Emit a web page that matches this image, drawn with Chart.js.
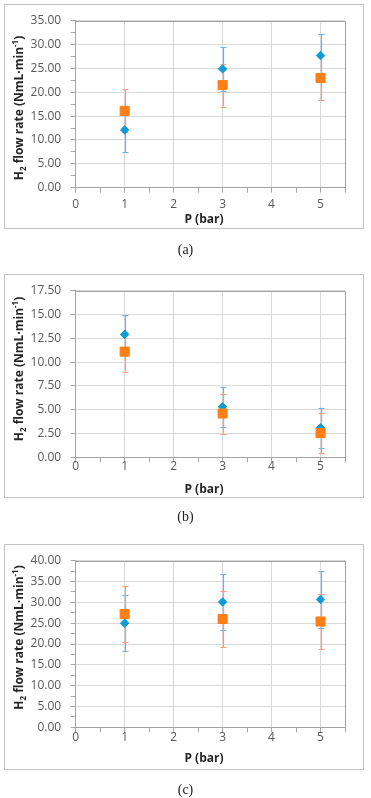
<!DOCTYPE html>
<html>
<head>
<meta charset="utf-8">
<script src="https://cdn.jsdelivr.net/npm/chart.js@4/dist/chart.umd.min.js"></script>
<style>
  html, body { margin: 0; padding: 0; background: #fff; }
  body { width: 371px; height: 798px; position: relative; overflow: hidden; }
  .panel { position: absolute; }
  .frame { position: absolute; left: 0; top: 0; right: 0; bottom: 0; border: 1.5px solid #c3c3c3; box-sizing: border-box; pointer-events: none; }
  .panel canvas { position: absolute; left: 0; top: 0; }
  .cap { position: absolute; left: 0; width: 371px; text-align: center; font-family: "Liberation Serif", "DejaVu Serif", serif; font-size: 14px; color: #222; line-height: 16px; }
</style>
</head>
<body>
<script>
// ---------------- DATA ----------------
const pressure = [1, 3, 5];
const xTickLabels = ['0', '1', '2', '3', '4', '5'];

const aSeries1 = [12.1, 24.9, 27.7];
const aSeries1Err = [4.6, 4.6, 4.5];
const aSeries2 = [16.1, 21.5, 23.0];
const aSeries2Err = [4.5, 4.5, 4.6];
const aYTickLabels = ['0.00', '5.00', '10.00', '15.00', '20.00', '25.00', '30.00', '35.00'];

const bSeries1 = [12.9, 5.3, 3.1];
const bSeries1Err = [2.1, 2.1, 2.1];
const bSeries2 = [11.1, 4.6, 2.55];
const bSeries2Err = [2.1, 2.1, 2.1];
const bYTickLabels = ['0.00', '2.50', '5.00', '7.50', '10.00', '12.50', '15.00', '17.50'];

const cSeries1 = [25.0, 30.1, 30.7];
const cSeries1Err = [6.7, 6.7, 6.8];
const cSeries2 = [27.2, 26.0, 25.4];
const cSeries2Err = [6.7, 6.7, 6.7];
const cYTickLabels = ['0.00', '5.00', '10.00', '15.00', '20.00', '25.00', '30.00', '35.00', '40.00'];

const xTitle = 'P (bar)';
const yTitleParts = [['H', 'n'], ['2', 'sub'], [' flow rate (NmL\u00B7min', 'n'], ['-1', 'sup'], [')', 'n']];
const captions = ['(a)', '(b)', '(c)'];

// ---------------- LAYOUT / STYLE ----------------
const BLUE = '#0f9bd7', ORANGE = '#ff7f16';
const BLUE_ERR = '#6fb3e6', ORANGE_ERR = '#f89c78';
const TICK_FONT = { family: '"Open Sans", "Liberation Sans", sans-serif', size: 12, lineHeight: 1.2 };

const panels = [
  { s1: aSeries1, e1: aSeries1Err, s2: aSeries2, e2: aSeries2Err, yLabels: aYTickLabels, yMax: 35, yStep: 2.5,
    top: 4, h: 225, plotTop: 15, plotBottom: 183.7, xLabelPad: 4.4, yTitleY: 104, xTitleY: 216, capY: 250 },
  { s1: bSeries1, e1: bSeries1Err, s2: bSeries2, e2: bSeries2Err, yLabels: bYTickLabels, yMax: 17.5, yStep: 2.5,
    top: 274, h: 224, plotTop: 14.3, plotBottom: 183.3, xLabelPad: -2.8, yTitleY: 95, xTitleY: 215.3, capY: 517 },
  { s1: cSeries1, e1: cSeries1Err, s2: cSeries2, e2: cSeries2Err, yLabels: cYTickLabels, yMax: 40, yStep: 2.5,
    top: 544, h: 226, plotTop: 14.3, plotBottom: 183.3, xLabelPad: -2.2, yTitleY: 93.5, xTitleY: 214.3, capY: 790 }
];
const BOX_LEFT = 4, BOX_W = 360, PLOT_LEFT = 71.7, PLOT_RIGHT = 341;

// ---------------- PLUGINS ----------------
const errorBars = {
  id: 'errorBars',
  beforeDatasetsDraw(chart) {
    const ctx = chart.ctx, xs = chart.scales.x, ys = chart.scales.y;
    ctx.save();
    ctx.lineWidth = 1.2;
    chart.data.datasets.forEach(ds => {
      ctx.strokeStyle = ds.errColor;
      ds.data.forEach((p, i) => {
        const e = ds.errors[i];
        const px = Math.round(xs.getPixelForValue(p.x)) + 0.5;
        const y1 = ys.getPixelForValue(p.y - e);
        const y2 = ys.getPixelForValue(p.y + e);
        ctx.beginPath();
        ctx.moveTo(px, y1); ctx.lineTo(px, y2);
        ctx.moveTo(px - 3, Math.round(y1) + 0.5); ctx.lineTo(px + 3, Math.round(y1) + 0.5);
        ctx.moveTo(px - 3, Math.round(y2) + 0.5); ctx.lineTo(px + 3, Math.round(y2) + 0.5);
        ctx.stroke();
      });
    });
    ctx.restore();
  }
};

const plotFrame = {
  id: 'plotFrame',
  beforeDatasetsDraw(chart) {
    const { ctx, chartArea: a } = chart;
    ctx.save();
    ctx.strokeStyle = '#a3a3a3';
    ctx.lineWidth = 1;
    ctx.beginPath();
    const t = Math.round(a.top) + 0.5, r = Math.round(a.right) + 0.5;
    ctx.moveTo(a.left, t); ctx.lineTo(r, t); ctx.lineTo(r, a.bottom);
    ctx.stroke();
    ctx.restore();
  }
};

const axisTitles = {
  id: 'axisTitles',
  afterDraw(chart, args, opts) {
    const ctx = chart.ctx;
    ctx.save();
    ctx.fillStyle = '#262626';
    ctx.font = 'bold 12px "Open Sans", sans-serif';
    ctx.textAlign = 'center';
    ctx.textBaseline = 'middle';
    ctx.fillText(xTitle, opts.xTitleX, opts.xTitleY);
    // y title (rotated)
    ctx.translate(opts.yTitleX, opts.yTitleY);
    ctx.rotate(-Math.PI / 2);
    ctx.textAlign = 'left';
    ctx.textBaseline = 'alphabetic';
    const big = 'bold 12px "Open Sans", sans-serif', small = 'bold 8px "Open Sans", sans-serif';
    let total = 0;
    yTitleParts.forEach(([t, k]) => { ctx.font = k === 'n' ? big : small; total += ctx.measureText(t).width; });
    let x = -total / 2;
    yTitleParts.forEach(([t, k]) => {
      ctx.font = k === 'n' ? big : small;
      const dy = k === 'sub' ? 7 : (k === 'sup' ? -1 : 4);
      ctx.fillText(t, x, dy);
      x += ctx.measureText(t).width;
    });
    ctx.restore();
  }
};

// ---------------- BUILD ----------------
panels.forEach((P, idx) => {
  const div = document.createElement('div');
  div.className = 'panel';
  div.style.left = BOX_LEFT + 'px';
  div.style.top = P.top + 'px';
  div.style.width = BOX_W + 'px';
  div.style.height = P.h + 'px';
  const cv = document.createElement('canvas');
  cv.width = BOX_W; cv.height = P.h;
  cv.style.width = BOX_W + 'px'; cv.style.height = P.h + 'px';
  div.appendChild(cv);
  const fr = document.createElement('div');
  fr.className = 'frame';
  div.appendChild(fr);
  document.body.appendChild(div);

  const cap = document.createElement('div');
  cap.className = 'cap';
  cap.style.top = (P.capY - 8) + 'px';
  cap.textContent = captions[idx];
  document.body.appendChild(cap);

  const xAxisH = P.h - P.plotBottom;

  new Chart(cv, {
    type: 'scatter',
    data: {
      datasets: [
        { label: 'series 1', data: pressure.map((x, i) => ({ x, y: P.s1[i] })), errors: P.e1, errColor: BLUE_ERR,
          pointStyle: 'rectRot', pointRadius: 4.2, backgroundColor: BLUE, borderColor: BLUE, pointBorderWidth: 1, order: 2 },
        { label: 'series 2', data: pressure.map((x, i) => ({ x, y: P.s2[i] })), errors: P.e2, errColor: ORANGE_ERR,
          pointStyle: 'rect', pointRadius: 6.4, backgroundColor: ORANGE, borderColor: ORANGE, pointBorderWidth: 1, order: 1 }
      ]
    },
    options: {
      responsive: false,
      animation: false,
      devicePixelRatio: 1,
      layout: { padding: { left: 0, right: BOX_W - PLOT_RIGHT, top: P.plotTop, bottom: 0 } },
      plugins: {
        legend: { display: false },
        tooltip: { enabled: false },
        axisTitles: { xTitleX: 200, xTitleY: P.xTitleY, yTitleX: 15, yTitleY: P.yTitleY }
      },
      scales: {
        x: {
          type: 'linear', min: 0, max: 5.5,
          afterFit: (s) => { s.height = xAxisH; },
          ticks: {
            stepSize: 0.5, autoSkip: false, maxRotation: 0, color: '#595959', font: TICK_FONT, padding: P.xLabelPad,
            callback: (v) => { const s = String(v); return xTickLabels.includes(s) ? s : ''; }
          },
          grid: {
            color: (c) => (c.tick && Number.isInteger(c.tick.value) ? '#d9d9d9' : 'rgba(0,0,0,0)'),
            tickColor: '#a6a6a6', tickLength: 5, lineWidth: 1
          },
          border: { display: true, color: '#a3a3a3', width: 1 }
        },
        y: {
          type: 'linear', min: 0, max: P.yMax,
          afterFit: (s) => { s.width = PLOT_LEFT; },
          ticks: {
            stepSize: P.yStep, autoSkip: false, color: '#595959', font: TICK_FONT, padding: 9.5,
            callback: (v) => { const s = Number(v).toFixed(2); return P.yLabels.includes(s) ? s : ''; }
          },
          grid: {
            color: (c) => (c.tick && P.yLabels.includes(Number(c.tick.value).toFixed(2)) ? '#d9d9d9' : 'rgba(0,0,0,0)'),
            tickColor: '#a6a6a6', tickLength: 5, lineWidth: 1
          },
          border: { display: true, color: '#a3a3a3', width: 1 }
        }
      }
    },
    plugins: [plotFrame, errorBars, axisTitles]
  });
});
</script>
</body>
</html>
